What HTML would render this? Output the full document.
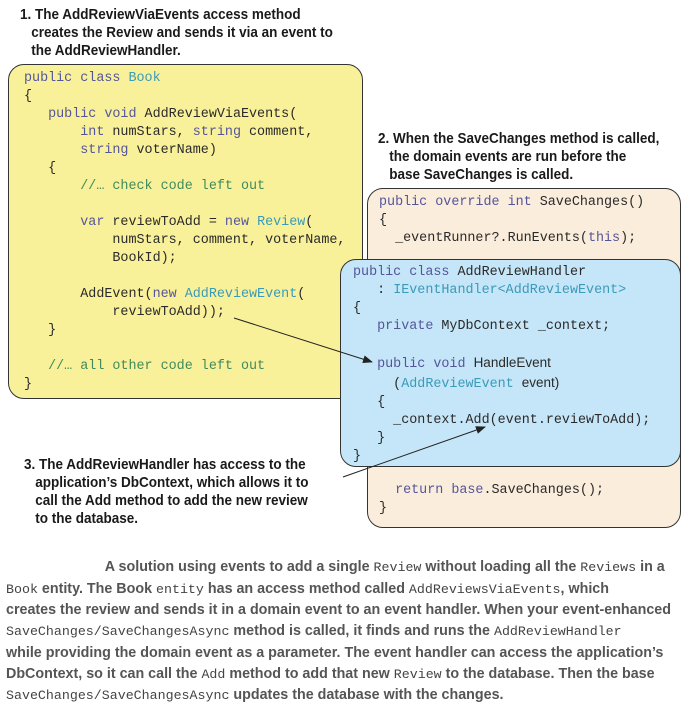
<!DOCTYPE html>
<html><head><meta charset="utf-8"><style>
body{margin:0;width:691px;height:697px;background:#fff;position:relative;overflow:hidden;font-family:"Liberation Sans",sans-serif}
.box{position:absolute;border:1.3px solid #333;border-radius:16px;box-sizing:border-box}
.c{position:absolute;font-family:"Liberation Mono",monospace;font-size:13.4px;line-height:18px;color:#2a2a2a;white-space:pre}
.k{color:#55559a}.t{color:#3a9ab8}.g{color:#3f8a5c}
.s{font-family:"Liberation Sans",sans-serif;font-size:13.5px}
.h{position:absolute;font-family:"Liberation Sans",sans-serif;font-weight:bold;font-size:15px;line-height:18px;color:#1a1a1a;white-space:pre;transform:scaleX(0.9);transform-origin:0 0}
.p{position:absolute;left:6px;width:684px;font-family:"Liberation Sans",sans-serif;font-weight:bold;font-size:14.3px;line-height:20.7px;color:#555;white-space:pre}
.p code{font-family:"Liberation Mono",monospace;font-weight:normal;font-size:13.3px;color:#444}
</style></head><body>
<div class="h" style="left:20px;top:6px">1. The AddReviewViaEvents access method
   creates the Review and sends it via an event to
   the AddReviewHandler.</div>
<div class="box" style="left:8px;top:64px;width:355px;height:335px;background:#f9f19a"></div>
<div class="c" style="left:24px;top:70px"><span class="k">public class</span> <span class="t">Book</span>
{
   <span class="k">public void</span> AddReviewViaEvents(
       <span class="k">int</span> numStars, <span class="k">string</span> comment,
       <span class="k">string</span> voterName)
   {
       <span class="g">//… check code left out</span>

       <span class="k">var</span> reviewToAdd = <span class="k">new</span> <span class="t">Review</span>(
           numStars, comment, voterName,
           BookId);

       AddEvent(<span class="k">new</span> <span class="t">AddReviewEvent</span>(
           reviewToAdd));
   }

   <span class="g">//… all other code left out</span>
}</div>
<div class="h" style="left:378px;top:130px">2. When the SaveChanges method is called,
   the domain events are run before the
   base SaveChanges is called.</div>
<div class="box" style="left:367px;top:188px;width:314px;height:340px;background:#fbeddc"></div>
<div class="c" style="left:379px;top:194px"><span class="k">public override int</span> SaveChanges()
{
  _eventRunner?.RunEvents(<span class="k">this</span>);</div>
<div class="c" style="left:379px;top:482px">  <span class="k">return base</span>.SaveChanges();
}</div>
<div class="box" style="left:340px;top:259px;width:341px;height:208px;background:#c5e6f8"></div>
<div class="c" style="left:353px;top:264px"><span class="k">public class</span> AddReviewHandler
   : <span class="t">IEventHandler&lt;AddReviewEvent&gt;</span>
{
   <span class="k">private</span> MyDbContext _context;

   <span class="k">public void</span> <span class="s">HandleEvent</span>
     (<span class="t">AddReviewEvent</span> <span class="s">event)</span>
   {
     _context.Add(event.reviewToAdd);
   }
}</div>
<div class="h" style="left:24px;top:456px">3. The AddReviewHandler has access to the
   application’s DbContext, which allows it to
   call the Add method to add the new review
   to the database.</div>
<svg style="position:absolute;left:0;top:0" width="691" height="697">
<defs><marker id="a" markerWidth="10" markerHeight="8" refX="9" refY="4" orient="auto" markerUnits="userSpaceOnUse"><path d="M0,0L10,4L0,8z" fill="#222"/></marker></defs>
<line x1="234" y1="318" x2="372" y2="362" stroke="#222" stroke-width="1" marker-end="url(#a)"/>
<line x1="343" y1="477" x2="485" y2="427" stroke="#222" stroke-width="1" marker-end="url(#a)"/>
</svg>
<div class="p" style="top:557px">                         A solution using events to add a single <code>Review</code> without loading all the <code>Reviews</code> in a
<code>Book</code> entity. The Book <code>entity</code> has an access method called <code>AddReviewsViaEvents</code>, which
creates the review and sends it in a domain event to an event handler. When your event-enhanced
<code>SaveChanges/SaveChangesAsync</code> method is called, it finds and runs the <code>AddReviewHandler</code>
while providing the domain event as a parameter. The event handler can access the application’s
DbContext, so it can call the <code>Add</code> method to add that new <code>Review</code> to the database. Then the base
<code>SaveChanges/SaveChangesAsync</code> updates the database with the changes.</div>
</body></html>
